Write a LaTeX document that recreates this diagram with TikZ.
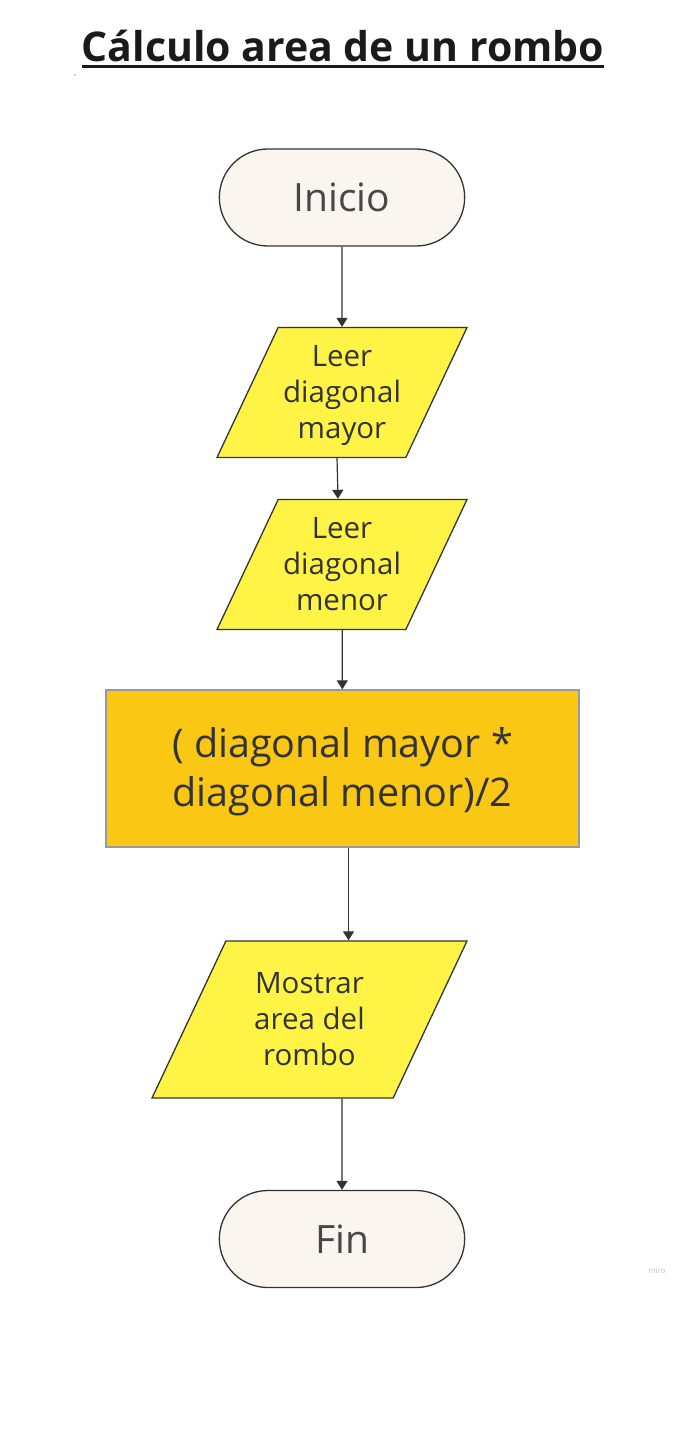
\documentclass[tikz,border=0pt]{standalone}
\usepackage{fontspec}
\setmainfont{Open Sans}
\usetikzlibrary{shapes.geometric, shapes.misc, arrows.meta}

\definecolor{crema}{HTML}{FAF6EF}
\definecolor{amarillo}{HTML}{FFF445}
\definecolor{naranja}{HTML}{F9C714}
\definecolor{borde}{HTML}{333333}
\definecolor{gris}{HTML}{9A9A9A}
\definecolor{texto}{HTML}{333333}
\definecolor{titulo}{HTML}{1A1A1A}

\newcommand\arriba{\rule{0pt}{0.78\baselineskip}}
\newcommand\abajo{\rule[-0.22\baselineskip]{0pt}{0.22\baselineskip}}

\begin{document}
\begin{tikzpicture}[x=1pt, y=-1pt,
  term/.style={rounded rectangle, draw=borde, fill=crema, line width=1.3pt, minimum width=252pt, minimum height=97pt, text=texto!90, font=\fontsize{39}{42}\selectfont},
  datos/.style={trapezium, trapezium left angle=64.8, trapezium right angle=115.2, trapezium stretches body, draw=borde, fill=amarillo, line width=1.3pt, align=center, text=texto, inner xsep=0pt, font=\fontsize{29.5}{36}\selectfont},
  proceso/.style={rectangle, draw=gris, fill=naranja, line width=1.3pt, minimum width=473pt, minimum height=157pt, align=center, text=texto, font=\fontsize{39.5}{49}\selectfont},
  flecha/.style={-{Triangle[length=9pt,width=11pt]}, line width=1.2pt, draw=borde}]

 \useasboundingbox (0,0) rectangle (692,1445);

 \def\cx{342}

 %titulo
 \node[anchor=base, inner sep=0pt, text=titulo, font=\fontsize{41}{44}\selectfont\bfseries] (tit) at (343,62) {Cálculo area de un rombo};
 \draw[line width=3pt, titulo] ([yshift=-5pt]tit.base west) -- ([yshift=-5pt]tit.base east);
 \fill[borde] (75,75) circle (0.7);

 %inicio
 \node[term] (Ini) at (\cx,197.5) {Inicio};

 %entradas
 \node[datos, inner ysep=11pt, minimum width=250pt, minimum height=130pt] (L1) at (\cx,392.5) {\arriba Leer\\diagonal\\mayor\abajo};
 \node[datos, inner ysep=11pt, minimum width=250pt, minimum height=130pt] (L2) at (\cx,564.5) {\arriba Leer\\diagonal\\menor\abajo};

 %proceso
 \node[proceso] (Calc) at (342.5,768.5) {\arriba( diagonal mayor *\\diagonal menor)/2\abajo};

 %salida
 \node[datos, inner ysep=24.5pt, minimum width=315pt, minimum height=157pt] (Most) at (309.5,1019.5) {\arriba Mostrar\\area del\\rombo\abajo};

 %fin
 \node[term] (Fin) at (\cx,1239) {Fin};

 \node[text=gris!60, font=\fontsize{8}{8}\selectfont] (marca) at (657,1271) {miro};

 %flechas
 \draw[flecha] (Ini) -- (L1);
 \draw[flecha] ([xshift=-5pt]L1.south) -- ([xshift=-4pt]L2.north);
 \draw[flecha] (L2) -- (Calc);
 \draw[flecha] ([xshift=6pt]Calc.south) -- ([xshift=6pt]Calc.south |- Most.north);
 \draw[flecha] (Fin.north |- Most.south) -- (Fin);

\end{tikzpicture}
\end{document}
